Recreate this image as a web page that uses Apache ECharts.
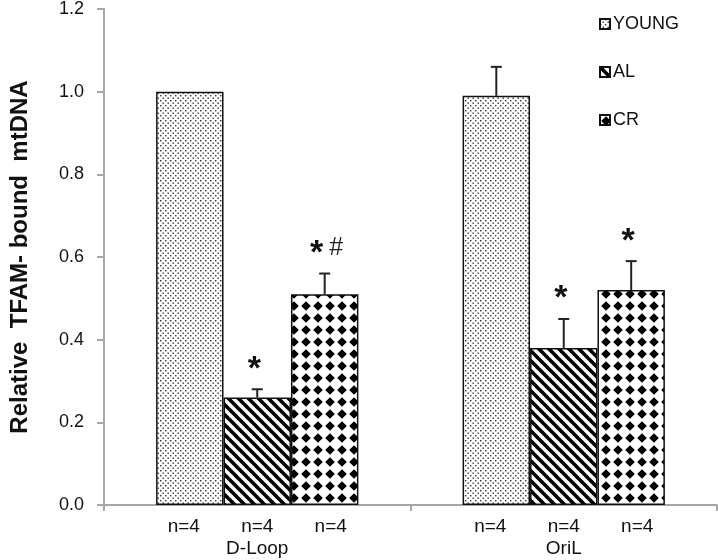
<!DOCTYPE html>
<html>
<head>
<meta charset="utf-8">
<script src="https://cdn.jsdelivr.net/npm/echarts@6/dist/echarts.min.js"></script>
<style>
html,body{margin:0;padding:0;background:#fff;}
#main{width:718px;height:560px;}
</style>
</head>
<body>
<div id="main"></div>
<script>
// ---- data ----
const categories = ['D-Loop', 'OriL'];
const groupNames = ['YOUNG', 'AL', 'CR'];
const youngVals = [1.00, 0.99];
const youngErr  = [0.00, 0.07];
const alVals    = [0.26, 0.38];
const alErr     = [0.02, 0.07];
const crVals    = [0.51, 0.52];
const crErr     = [0.05, 0.07];
const youngMarks = ['', ''];
const alMarks    = ['*', '*'];
const crMarks    = ['*#', '*'];
const nLabels    = ['n=4', 'n=4'];
const yTicks     = [0, 0.2, 0.4, 0.6, 0.8, 1.0, 1.2];

// ---- patterns ----
function makeCanvas(w, h) {
  const c = document.createElement('canvas');
  c.width = w; c.height = h;
  return c;
}
function dotPattern() {
  const c = makeCanvas(5, 5), g = c.getContext('2d');
  g.fillStyle = '#fff'; g.fillRect(0, 0, 5, 5);
  g.fillStyle = '#333';
  g.fillRect(0, 0, 1.4, 1.4);
  g.fillRect(2.5, 2.5, 1.4, 1.4);
  return c;
}
function stripePattern() {
  const s = 10;
  const c = makeCanvas(s, s), g = c.getContext('2d');
  g.fillStyle = '#fff'; g.fillRect(0, 0, s, s);
  g.strokeStyle = '#000'; g.lineWidth = 3.6;
  for (let k = -1; k <= 1; k++) {
    g.beginPath();
    g.moveTo(k * s - 2, -2);
    g.lineTo(k * s + s + 2, s + 2);
    g.stroke();
  }
  return c;
}
function diamondPattern() {
  const s = 12;
  const c = makeCanvas(s, s), g = c.getContext('2d');
  g.fillStyle = '#fff'; g.fillRect(0, 0, s, s);
  g.fillStyle = '#000';
  const r = 4.8, cx = s / 2, cy = s / 2;
  g.beginPath();
  g.moveTo(cx, cy - r); g.lineTo(cx + r, cy); g.lineTo(cx, cy + r); g.lineTo(cx - r, cy);
  g.closePath(); g.fill();
  return c;
}
const patterns = [dotPattern(), stripePattern(), diamondPattern()];

const seriesVals  = [youngVals, alVals, crVals];
const seriesErr   = [youngErr, alErr, crErr];
const seriesMarks = [youngMarks, alMarks, crMarks];
const nLabelShift = [-6, 0, 6];

const CATGAP = 0.34;
const FONT = '"Liberation Sans", Arial, sans-serif';

const barSeries = groupNames.map((name, i) => ({
  type: 'bar',
  name: name,
  data: seriesVals[i],
  barGap: '0%',
  barCategoryGap: (CATGAP * 100) + '%',
  itemStyle: {
    color: { image: patterns[i], repeat: 'repeat' },
    borderColor: '#111',
    borderWidth: 1.5
  },
  label: {
    show: true,
    position: ['50%', '100%'],
    offset: [nLabelShift[i], 22],
    align: 'center',
    verticalAlign: 'middle',
    fontFamily: FONT,
    fontSize: 19,
    color: '#111',
    formatter: (p) => nLabels[p.dataIndex]
  },
  emphasis: { disabled: true },
  z: 2
}));

// error bars & significance marks
const errData = [];
groupNames.forEach((name, s) => {
  categories.forEach((c, ci) => {
    errData.push([ci, s, seriesVals[s][ci], seriesErr[s][ci], seriesMarks[s][ci]]);
  });
});

const errSeries = {
  type: 'custom',
  name: 'err',
  data: errData,
  z: 5,
  silent: true,
  renderItem: function (params, api) {
    const ci = api.value(0), s = api.value(1), v = api.value(2), e = api.value(3);
    const mark = errData[params.dataIndex][4];
    const catW = api.size([1, 0])[0];
    const bw = catW * (1 - CATGAP) / 3;
    const cx = api.coord([ci, 0])[0] + (s - 1) * bw;
    const yb = api.coord([ci, v])[1];
    const yt = api.coord([ci, v + e])[1];
    const children = [];
    if (e > 0) {
      children.push({ type: 'line', shape: { x1: cx, y1: yb, x2: cx, y2: yt }, style: { stroke: '#222', lineWidth: 2 } });
      children.push({ type: 'line', shape: { x1: cx - 5.5, y1: yt, x2: cx + 5.5, y2: yt }, style: { stroke: '#222', lineWidth: 2 } });
    }
    if (mark) {
      const txt = mark === '*#' ? '{s|*}{h|#}' : '{s|*}';
      children.push({
        type: 'text',
        style: {
          text: txt,
          x: mark === '*#' ? cx + 2 : cx,
          y: yt - 25,
          align: 'center',
          verticalAlign: 'middle',
          rich: {
            s: { fontFamily: FONT, fontSize: 34, fontWeight: 'bold', fill: '#111', color: '#111', padding: [10, 6, 0, 0] },
            h: { fontFamily: FONT, fontSize: 25, fill: '#222', color: '#222' }
          }
        }
      });
    }
    return { type: 'group', children: children };
  }
};

const option = {
  animation: false,
  backgroundColor: '#fff',
  grid: { left: 90, right: 1, top: 5, bottom: 55, containLabel: false },
  legend: {
    data: groupNames,
    orient: 'vertical',
    left: 594,
    top: 10,
    itemWidth: 10,
    itemHeight: 10,
    itemGap: 30,
    icon: 'rect',
    textStyle: { fontFamily: FONT, fontSize: 18, color: '#111', padding: [0, 0, 0, -2] },
    selectedMode: false
  },
  xAxis: {
    type: 'category',
    data: categories,
    axisLine: { lineStyle: { color: '#a6a6a6', width: 2 } },
    axisTick: { show: true, length: 6, lineStyle: { color: '#a6a6a6', width: 2 } },
    axisLabel: { margin: 34, fontFamily: FONT, fontSize: 19, color: '#111' }
  },
  yAxis: {
    type: 'value',
    min: yTicks[0],
    max: yTicks[yTicks.length - 1],
    interval: 0.2,
    name: 'Relative  TFAM- bound  mtDNA',
    nameLocation: 'middle',
    nameGap: 72,
    nameTextStyle: { fontFamily: FONT, fontSize: 24, fontWeight: 'bold', color: '#111' },
    axisLine: { show: true, lineStyle: { color: '#a6a6a6', width: 2 } },
    axisTick: { show: true, length: 7, lineStyle: { color: '#a6a6a6', width: 2 } },
    splitLine: { show: false },
    axisLabel: { margin: 20, fontFamily: FONT, fontSize: 18, color: '#111', formatter: (v) => v.toFixed(1) }
  },
  series: barSeries.concat([errSeries])
};

const chart = echarts.init(document.getElementById('main'));
chart.setOption(option);
</script>
</body>
</html>
